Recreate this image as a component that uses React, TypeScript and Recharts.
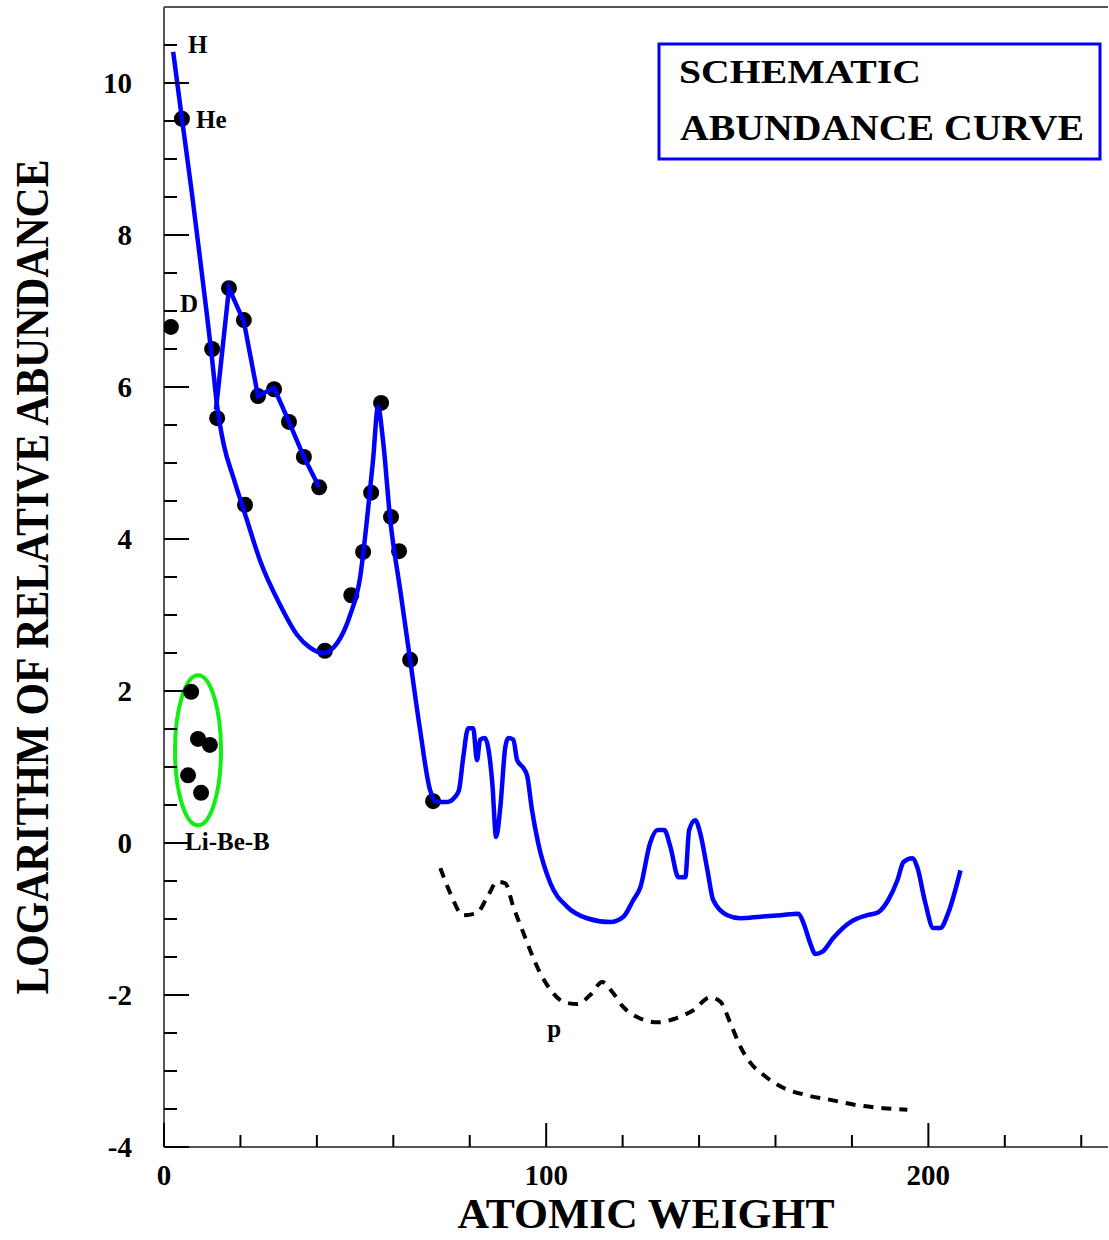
import React from 'react';
import {
  ComposedChart,
  XAxis,
  YAxis,
  Line,
  Scatter,
  ReferenceDot,
  ReferenceLine,
  Legend,
  Label,
} from 'recharts';

const FONT = '"Liberation Serif", "Times New Roman", serif';

// axis ticks
const X_TICKS = [0, 20, 40, 60, 80, 100, 120, 140, 160, 180, 200, 220, 240];
const X_LABELS = [0, 100, 200];
const Y_TICKS = [
  -4, -3.5, -3, -2.5, -2, -1.5, -1, -0.5, 0, 0.5, 1, 1.5, 2, 2.5, 3, 3.5, 4, 4.5,
  5, 5.5, 6, 6.5, 7, 7.5, 8, 8.5, 9, 9.5, 10, 10.5,
];
const Y_LABELS = [-4, -2, 0, 2, 4, 6, 8, 10];

// schematic abundance curve (blue)
const mainCurve = [
  { x: 2.4, y: 10.41 }, { x: 4.7, y: 9.53 }, { x: 7.3, y: 8.55 }, { x: 9.4, y: 7.7 },
  { x: 11.3, y: 6.92 }, { x: 12.6, y: 6.36 }, { x: 13.9, y: 5.75 }, { x: 15.6, y: 5.25 },
  { x: 18.2, y: 4.8 }, { x: 21.7, y: 4.25 }, { x: 25.1, y: 3.72 }, { x: 30.4, y: 3.13 },
  { x: 34.8, y: 2.74 }, { x: 38.2, y: 2.57 }, { x: 41.6, y: 2.5 }, { x: 45.3, y: 2.63 },
  { x: 48.7, y: 3.0 }, { x: 51.3, y: 3.49 }, { x: 53.1, y: 4.25 }, { x: 54.7, y: 5.04 },
  { x: 56.0, y: 5.74 }, { x: 57.3, y: 5.3 }, { x: 59.2, y: 4.25 }, { x: 61.8, y: 3.33 },
  { x: 64.4, y: 2.41 }, { x: 67.0, y: 1.49 }, { x: 69.6, y: 0.7 }, { x: 71.5, y: 0.54 },
  { x: 74.1, y: 0.54 }, { x: 76.2, y: 0.61 }, { x: 77.2, y: 0.7 }, { x: 78.3, y: 1.13 },
  { x: 79.6, y: 1.51 }, { x: 80.9, y: 1.51 }, { x: 81.9, y: 1.09 }, { x: 82.7, y: 1.36 },
  { x: 84.0, y: 1.38 }, { x: 84.8, y: 1.26 }, { x: 85.9, y: 0.79 }, { x: 86.9, y: 0.08 },
  { x: 88.0, y: 0.47 }, { x: 89.3, y: 1.26 }, { x: 90.1, y: 1.38 }, { x: 91.4, y: 1.36 },
  { x: 92.4, y: 1.09 }, { x: 94.0, y: 0.99 }, { x: 95.0, y: 0.89 }, { x: 96.3, y: 0.43 },
  { x: 97.9, y: 0.0 }, { x: 101.1, y: -0.53 }, { x: 105.5, y: -0.84 }, { x: 110.7, y: -0.99 },
  { x: 116.8, y: -1.04 }, { x: 120.2, y: -0.97 }, { x: 122.8, y: -0.75 }, { x: 124.6, y: -0.59 },
  { x: 127.2, y: 0.0 }, { x: 129.1, y: 0.17 }, { x: 130.9, y: 0.17 }, { x: 132.5, y: -0.05 },
  { x: 134.6, y: -0.45 }, { x: 136.4, y: -0.45 }, { x: 137.4, y: 0.17 }, { x: 139.0, y: 0.3 },
  { x: 140.3, y: 0.13 }, { x: 142.2, y: -0.36 }, { x: 143.7, y: -0.75 }, { x: 147.4, y: -0.95 },
  { x: 150.8, y: -0.99 }, { x: 156.0, y: -0.97 }, { x: 161.3, y: -0.95 }, { x: 166.0, y: -0.93 },
  { x: 167.3, y: -1.05 }, { x: 169.1, y: -1.32 }, { x: 170.4, y: -1.46 }, { x: 172.3, y: -1.43 },
  { x: 175.1, y: -1.25 }, { x: 179.6, y: -1.04 }, { x: 184.0, y: -0.95 }, { x: 186.9, y: -0.91 },
  { x: 189.5, y: -0.75 }, { x: 191.9, y: -0.49 }, { x: 193.5, y: -0.25 }, { x: 195.8, y: -0.2 },
  { x: 197.1, y: -0.32 }, { x: 199.2, y: -0.79 }, { x: 201.3, y: -1.12 }, { x: 203.1, y: -1.12 },
  { x: 205.2, y: -0.92 }, { x: 208.4, y: -0.36 },
];

// alpha-nuclei zigzag (blue)
const alphaChain = [
  { x: 13.6, y: 5.7 }, { x: 17.0, y: 7.3 }, { x: 20.9, y: 6.86 }, { x: 24.6, y: 5.88 },
  { x: 28.8, y: 5.99 }, { x: 32.7, y: 5.54 }, { x: 36.6, y: 5.08 }, { x: 40.6, y: 4.68 },
];

// p-process (dashed)
const pProcess = [
  { x: 72.3, y: -0.33 }, { x: 74.9, y: -0.66 }, { x: 78.3, y: -0.95 }, { x: 81.9, y: -0.92 },
  { x: 84.6, y: -0.71 }, { x: 87.2, y: -0.51 }, { x: 89.3, y: -0.53 }, { x: 91.4, y: -0.84 },
  { x: 93.7, y: -1.14 }, { x: 95.8, y: -1.41 }, { x: 98.4, y: -1.71 }, { x: 101.1, y: -1.93 },
  { x: 104.5, y: -2.09 }, { x: 108.1, y: -2.12 }, { x: 111.5, y: -2.0 }, { x: 114.7, y: -1.83 },
  { x: 117.3, y: -1.96 }, { x: 120.2, y: -2.16 }, { x: 123.8, y: -2.29 }, { x: 129.1, y: -2.36 },
  { x: 134.3, y: -2.3 }, { x: 138.5, y: -2.2 }, { x: 142.9, y: -2.03 }, { x: 145.6, y: -2.09 },
  { x: 148.2, y: -2.37 }, { x: 150.8, y: -2.68 }, { x: 153.4, y: -2.89 }, { x: 156.8, y: -3.05 },
  { x: 162.0, y: -3.22 }, { x: 168.3, y: -3.32 }, { x: 174.4, y: -3.38 }, { x: 181.4, y: -3.45 },
  { x: 188.2, y: -3.49 }, { x: 194.5, y: -3.51 },
];

// measured abundances (black dots)
const measured = [
  { x: 4.7, y: 9.53 }, { x: 1.8, y: 6.79 }, { x: 12.6, y: 6.5 }, { x: 13.9, y: 5.59 },
  { x: 17.0, y: 7.3 }, { x: 20.9, y: 6.88 }, { x: 21.2, y: 4.45 }, { x: 24.6, y: 5.88 },
  { x: 28.8, y: 5.97 }, { x: 32.7, y: 5.54 }, { x: 36.6, y: 5.08 }, { x: 40.6, y: 4.68 },
  { x: 42.1, y: 2.53 }, { x: 49.0, y: 3.26 }, { x: 52.1, y: 3.83 }, { x: 54.2, y: 4.61 },
  { x: 56.8, y: 5.79 }, { x: 59.4, y: 4.29 }, { x: 61.5, y: 3.84 }, { x: 64.4, y: 2.41 },
  { x: 70.4, y: 0.55 },
];

const liBeB = [
  { x: 7.1, y: 1.99 }, { x: 8.9, y: 1.37 }, { x: 12.0, y: 1.29 }, { x: 6.3, y: 0.89 },
  { x: 9.7, y: 0.66 },
];
const liBeBCenter = { x: 8.9, y: 1.22 };

const labels = [
  { text: 'H', x: 6.3, y: 10.39 },
  { text: 'He', x: 8.4, y: 9.41 },
  { text: 'D', x: 4.2, y: 6.99 },
  { text: 'Li-Be-B', x: 5.5, y: -0.09 },
  { text: 'p', x: 100.3, y: -2.55 },
];

const TITLE_1 = 'SCHEMATIC';
const TITLE_2 = 'ABUNDANCE CURVE';

const YTick = (props: any) => {
  const { x, y, payload } = props;
  const v = payload.value;
  const major = Y_LABELS.includes(v);
  return (
    <g>
      <line x1={x} x2={x + (major ? 25 : 13)} y1={y} y2={y} stroke="#000" strokeWidth={2} />
      {major && (
        <text x={x - 32} y={y + 10} textAnchor="end" fontSize={29} fontWeight="bold" fontFamily={FONT} fill="#000">
          {v}
        </text>
      )}
    </g>
  );
};

const XTick = (props: any) => {
  const { x, y, payload } = props;
  const v = payload.value;
  const major = X_LABELS.includes(v);
  return (
    <g>
      <line x1={x} x2={x} y1={y} y2={y - (major ? 24 : 12)} stroke="#000" strokeWidth={2} />
      {major && (
        <text x={x} y={y + 38} textAnchor="middle" fontSize={29} fontWeight="bold" fontFamily={FONT} fill="#000">
          {v}
        </text>
      )}
    </g>
  );
};

const TitleBox = () => (
  <svg width={446} height={120}>
    <rect x={2} y={2} width={441} height={115} fill="#fff" stroke="#0000ff" strokeWidth={3} />
    <text x={22} y={41} fontSize={34} fontWeight="bold" fontFamily={FONT} textLength={242} lengthAdjust="spacingAndGlyphs">
      {TITLE_1}
    </text>
    <text x={23} y={98} fontSize={35} fontWeight="bold" fontFamily={FONT} textLength={404} lengthAdjust="spacingAndGlyphs">
      {TITLE_2}
    </text>
  </svg>
);

const dotShape = (p: any) => <circle cx={p.cx} cy={p.cy} r={8} fill="#000" />;

export default function App() {
  return (
    <div style={{ position: 'absolute', left: 0, top: 0, width: 1109, height: 1240, background: '#fff' }}>
      <ComposedChart width={1109} height={1240} margin={{ top: 7, right: 1, left: 0, bottom: 0 }}>
        <XAxis
          dataKey="x"
          type="number"
          domain={[0, 247]}
          ticks={X_TICKS}
          interval={0}
          allowDataOverflow
          height={93}
          tickSize={0}
          tickMargin={0}
          tickLine={false}
          tick={<XTick />}
          axisLine={{ stroke: '#555', strokeWidth: 2 }}
        >
          <Label
            content={(p: any) => {
              const vb = p.viewBox;
              return (
                <text
                  x={vb.x + 482}
                  y={vb.y + 81}
                  textAnchor="middle"
                  fontSize={42}
                  fontWeight="bold"
                  fontFamily={FONT}
                  textLength={377}
                  lengthAdjust="spacingAndGlyphs"
                >
                  ATOMIC WEIGHT
                </text>
              );
            }}
          />
        </XAxis>
        <YAxis
          dataKey="y"
          type="number"
          domain={[-4, 11]}
          ticks={Y_TICKS}
          interval={0}
          allowDataOverflow
          width={164}
          tickSize={0}
          tickMargin={0}
          tickLine={false}
          tick={<YTick />}
          axisLine={{ stroke: '#555', strokeWidth: 2 }}
        >
          <Label
            content={() => (
              <text
                x={48}
                y={577}
                transform="rotate(-90, 48, 577)"
                textAnchor="middle"
                fontSize={47}
                fontWeight="bold"
                fontFamily={FONT}
                textLength={835}
                lengthAdjust="spacingAndGlyphs"
              >
                LOGARITHM OF RELATIVE ABUNDANCE
              </text>
            )}
          />
        </YAxis>
        <ReferenceLine y={11} stroke="#555" strokeWidth={2} />
        <Legend
          layout="horizontal"
          verticalAlign="middle"
          align="center"
          wrapperStyle={{ position: 'absolute', left: 657, top: 42, width: 446, height: 120 }}
          content={() => <TitleBox />}
        />
        <ReferenceDot
          x={liBeBCenter.x}
          y={liBeBCenter.y}
          r={0}
          ifOverflow="visible"
          shape={(p: any) => (
            <ellipse cx={p.cx} cy={p.cy} rx={23} ry={75} fill="none" stroke="#11ee11" strokeWidth={4} />
          )}
        />
        <Scatter data={measured} dataKey="y" shape={dotShape} isAnimationActive={false} />
        <Scatter data={liBeB} dataKey="y" shape={dotShape} isAnimationActive={false} />
        <Line
          data={pProcess}
          dataKey="y"
          type="monotone"
          stroke="#000"
          strokeWidth={4}
          strokeDasharray="10 8"
          dot={false}
          activeDot={false}
          isAnimationActive={false}
          zIndex={650}
        />
        <Line
          data={mainCurve}
          dataKey="y"
          type="monotone"
          stroke="#0000ff"
          strokeWidth={4.5}
          dot={false}
          activeDot={false}
          isAnimationActive={false}
          zIndex={650}
        />
        <Line
          data={alphaChain}
          dataKey="y"
          type="linear"
          stroke="#0000ff"
          strokeWidth={4.5}
          dot={false}
          activeDot={false}
          isAnimationActive={false}
          zIndex={650}
        />
        {labels.map((l) => (
          <ReferenceDot
            key={l.text}
            x={l.x}
            y={l.y}
            r={0}
            ifOverflow="visible"
            shape={(p: any) => (
              <text x={p.cx} y={p.cy} fontSize={25} fontWeight="bold" fontFamily={FONT} fill="#000">
                {l.text}
              </text>
            )}
          />
        ))}
      </ComposedChart>
    </div>
  );
}
